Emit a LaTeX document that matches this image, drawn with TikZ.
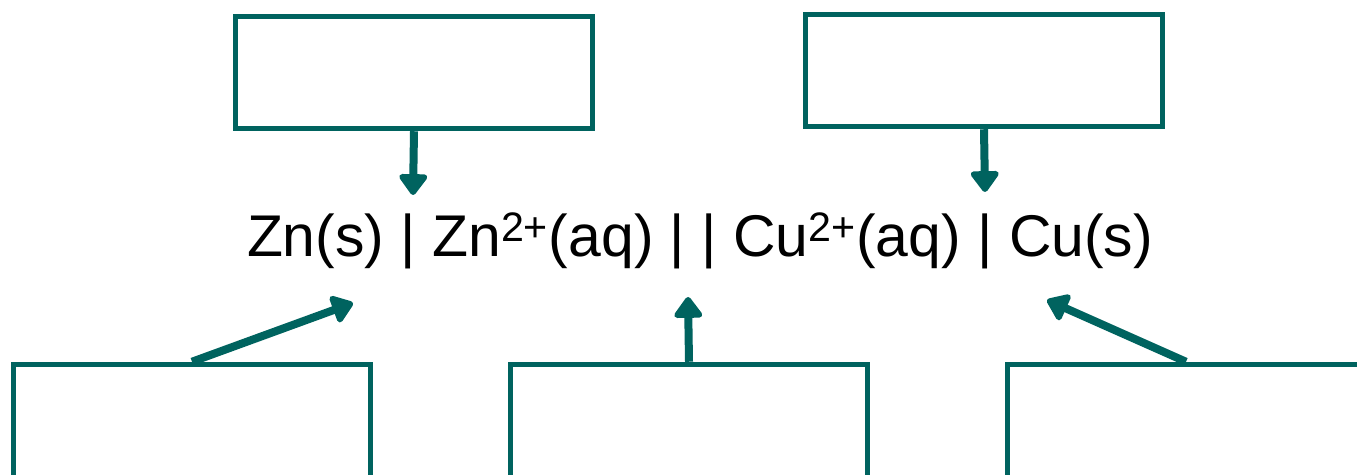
\documentclass[tikz,border=0pt]{standalone}
\usepackage{xcolor}
\usepackage{fontspec}
\setmainfont{Liberation Sans}
\usepackage{tikz}
\usetikzlibrary{positioning, arrows.meta}
\definecolor{cellteal}{RGB}{0, 99, 95}

\begin{document}
\begin{tikzpicture}[
  labelbox/.style={draw=cellteal, line width=0.11cm, fill=white, minimum width=7.14cm, minimum height=2.24cm, inner sep=0pt},
  pointer/.style={draw=cellteal, line width=0.16cm, -{Triangle[length=0.46cm, width=0.64cm, round]}}
]
    \useasboundingbox (0,0) rectangle (27.14,9.5);
    \clip (0,0) rectangle (27.14,9.5);

    % cell notation
    \node (cell) at (14.0, 4.36) [anchor=base, inner sep=0pt, font=\fontsize{33.5}{40}\selectfont]
        {Zn(s) | Zn\textsuperscript{2+}(aq) | | Cu\textsuperscript{2+}(aq) | Cu(s)};

    % empty label boxes
    \node[labelbox] (anodebox) at (8.28, 8.05) {};
    \node[labelbox] (cathodebox) at (19.68, 8.09) {};
    \begin{scope}[every node/.style={labelbox, minimum height=2.4cm}]
        \node (anodesoln) at (3.84, 1.01) {};
        \node (saltbridge) at (13.78, 1.01) {};
        \node (cathodesoln) at (23.72, 1.01) {};
    \end{scope}

    % arrow tips
    \coordinate (anodetip) at (8.26, 5.6);
    \coordinate (cathodetip) at (19.70, 5.66);
    \coordinate (zntip) at (7.06, 3.44);
    \coordinate (bridgetip) at (13.76, 3.56);
    \coordinate (cutip) at (20.94, 3.5);

    \draw[pointer] (anodebox.south) -- (anodetip);
    \draw[pointer] (cathodebox.south) -- (cathodetip);
    \draw[pointer] (anodesoln.north) -- (zntip);
    \draw[pointer] (saltbridge.north) -- (bridgetip);
    \draw[pointer] (cathodesoln.north) -- (cutip);
\end{tikzpicture}
\end{document}
